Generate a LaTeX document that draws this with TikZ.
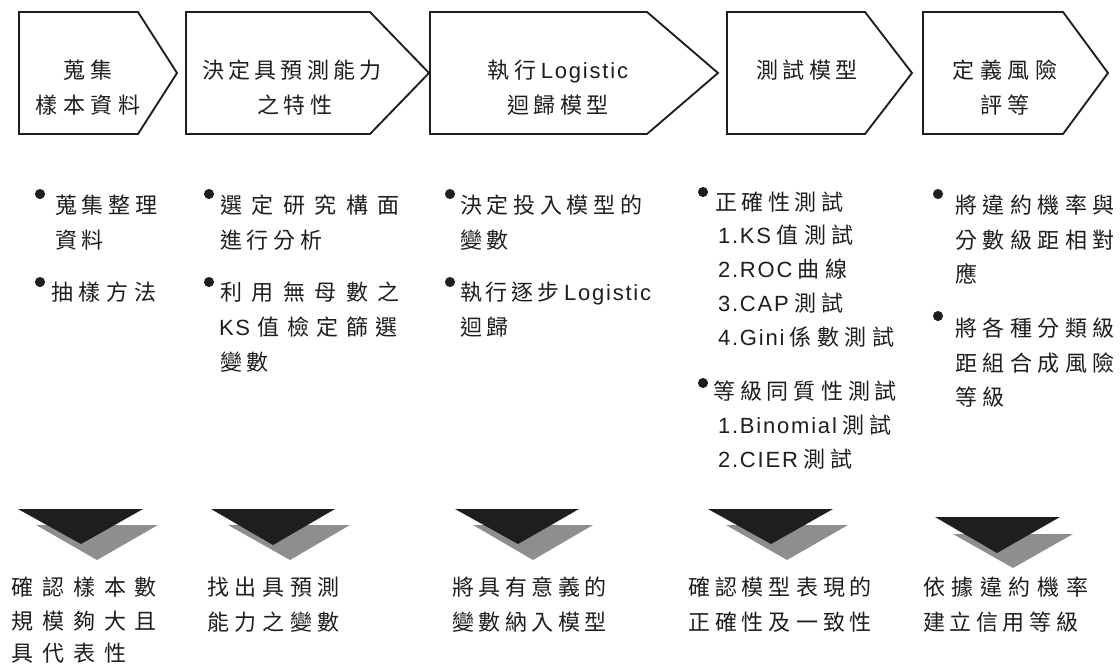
\documentclass[tikz,border=0pt]{standalone}
\usepackage{fontspec}
\setmainfont{Noto Sans CJK TC}
\newfontfamily\latf{Liberation Sans}
\newdimen\upx \upx=0.75pt
\def\myspcend{MYSPCEND}
\newcommand\myspc[2]{\def\myspcgap{\kern#1\upx}\myspcfirst#2\myspcend}
\def\myspcfirst#1{#1\myspcloop}
\def\myspcloop#1{\ifx\myspcend#1\else\myspcgap#1\expandafter\myspcloop\fi}
\newcommand\latw[1]{{\latf\myspc{1.8}{#1}}}
\definecolor{ink}{HTML}{1E1E1E}
\definecolor{stip}{HTML}{8E8E8E}
\tikzset{
  chev/.style={draw=ink, line width=1.4pt, fill=white, line join=miter},
  txt/.style={inner sep=0pt, outer sep=0pt, text=ink, font=\fontsize{16.5pt}{20pt}\selectfont},
  tl/.style={txt, anchor=base west},
  tc/.style={txt, anchor=base},
  dot/.style={fill=ink},
  blk/.style={fill=ink},
  shd/.style={fill=stip}
}
\newcommand\Ln[5]{\node[tl] (#1) at (#2,#3+8.4) {\myspc{#4}{#5}};}
\newcommand\Lc[5]{\node[tc] (#1) at (#2,#3+8.4) {\myspc{#4}{#5}};}
\begin{document}
\begin{tikzpicture}[x=0.75pt,y=-0.75pt]
\useasboundingbox[fill=white] (0,0) rectangle (1120,665);
% chevrons
\draw[chev] (19,12) -- (138,12) -- (177,73) -- (138,134) -- (19,134) -- cycle;
\draw[chev] (186,12) -- (370,12) -- (429,73) -- (370,134) -- (186,134) -- cycle;
\draw[chev] (430,12) -- (647,12) -- (718,73) -- (647,134) -- (430,134) -- cycle;
\draw[chev] (727,12) -- (865,12) -- (912,73) -- (865,134) -- (727,134) -- cycle;
\draw[chev] (923,12) -- (1063,12) -- (1108,73) -- (1063,134) -- (923,134) -- cycle;
% chevron texts
\Lc{h1a}{88}{70}{5.7}{蒐集}
\Lc{h1b}{88}{105}{5.7}{樣本資料}
\Lc{h2a}{292}{70}{4.2}{決定具預測能力}
\Lc{h2b}{295}{105}{4.5}{之特性}
\Lc{h3a}{558}{70}{4.5}{執行{\latw{Logistic}}}
\Lc{h3b}{558}{105}{4.5}{迴歸模型}
\Lc{h4a}{807}{70}{4.3}{測試模型}
\Lc{h5a}{1005}{70}{5.7}{定義風險}
\Lc{h5b}{1005}{105}{6}{評等}
% bullet dots
\foreach \px/\py in {40/194,40/282,209/194,209/282,450/194,450/282,703/192,703/383,938/194,938/316}
  \fill[dot] (\px,\py) circle[radius=3.8pt];
% column 1
\Ln{a1}{55}{205}{4.7}{蒐集整理}
\Ln{a2}{55}{240}{4.7}{資料}
\Ln{a3}{51}{292}{5.7}{抽樣方法}
% column 2
\Ln{b1}{220}{205}{9.6}{選定研究構面}
\Ln{b2}{220}{240}{5}{進行分析}
\Ln{b3}{220}{292}{9.6}{利用無母數之}
\Ln{b4}{219}{327}{7.5}{{\latw{KS}}值檢定篩選}
\Ln{b5}{220}{362}{5}{變數}
% column 3
\Ln{c1}{460}{205}{4.7}{決定投入模型的}
\Ln{c2}{460}{240}{4.7}{變數}
\Ln{c3}{460}{292}{4}{執行逐步{\latw{Logistic}}}
\Ln{c4}{460}{327}{4.7}{迴歸}
% column 4
\Ln{d1}{715}{202}{4.5}{正確性測試}
\Ln{d2}{718}{235}{5.5}{{\latw{1.KS}}值測試}
\Ln{d3}{718}{269}{5.5}{{\latw{2.ROC}}曲線}
\Ln{d4}{718}{303}{5.5}{{\latw{3.CAP}}測試}
\Ln{d5}{718}{337}{5.5}{{\latw{4.Gini}}係數測試}
\Ln{d6}{713}{391}{5}{等級同質性測試}
\Ln{d7}{718}{425}{5.5}{{\latw{1.Binomial}}測試}
\Ln{d8}{718}{459}{5.5}{{\latw{2.CIER}}測試}
% column 5
\Ln{e1}{955}{205}{5.6}{將違約機率與}
\Ln{e2}{955}{240}{5.6}{分數級距相對}
\Ln{e3}{955}{274}{5.6}{應}
\Ln{e4}{955}{328}{5.6}{將各種分類級}
\Ln{e5}{955}{363}{5.6}{距組合成風險}
\Ln{e6}{955}{397}{5.6}{等級}
% triangles
\fill[shd] (36,525) -- (158,525) -- (97,560) -- cycle;
\fill[blk] (18,509) -- (143,509) -- (81,544) -- cycle;
\fill[shd] (228,525) -- (350,525) -- (290,560) -- cycle;
\fill[blk] (211,509) -- (335,509) -- (273,545) -- cycle;
\fill[shd] (473,525) -- (593,525) -- (533,560) -- cycle;
\fill[blk] (455,509) -- (579,509) -- (518,544) -- cycle;
\fill[shd] (726,525) -- (848,525) -- (787,560) -- cycle;
\fill[blk] (708,509) -- (833,509) -- (771,544) -- cycle;
\fill[shd] (953,534) -- (1073,534) -- (1013,568) -- cycle;
\fill[blk] (935,517) -- (1060,517) -- (997,553) -- cycle;
% bottom texts
\Ln{f1}{12}{587}{8.7}{確認樣本數}
\Ln{f2}{12}{621}{8.7}{規模夠大且}
\Ln{f3}{12}{653}{9}{具代表性}
\Ln{g1}{207}{587}{5.7}{找出具預測}
\Ln{g2}{207}{622}{5.7}{能力之變數}
\Ln{k1}{452}{587}{4.6}{將具有意義的}
\Ln{k2}{452}{622}{4.6}{變數納入模型}
\Ln{m1}{688}{587}{5}{確認模型表現的}
\Ln{m2}{688}{622}{5}{正確性及一致性}
\Ln{n1}{923}{587}{6.6}{依據違約機率}
\Ln{n2}{923}{622}{4.6}{建立信用等級}
\end{tikzpicture}
\end{document}
